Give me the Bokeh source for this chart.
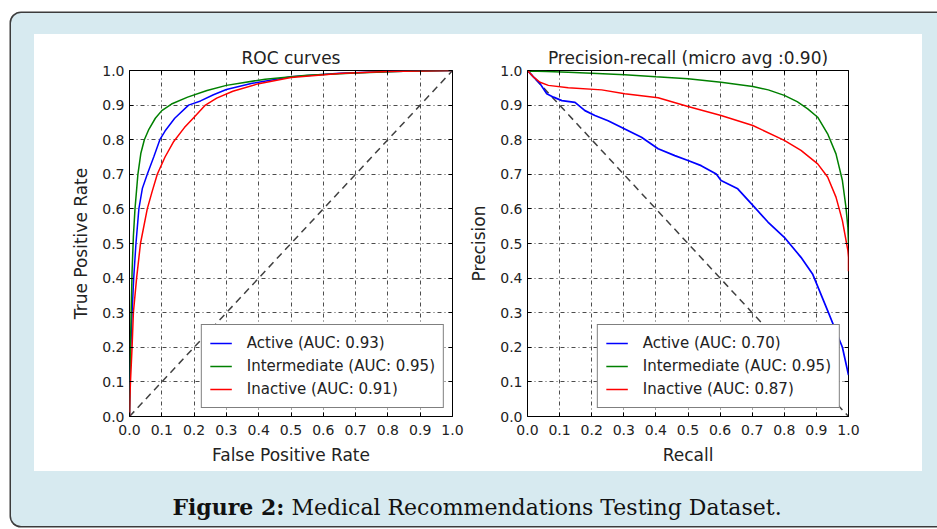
from bokeh.plotting import figure
from bokeh.models import Range1d, FixedTicker, NumeralTickFormatter, LinearAxis, Div
from bokeh.layouts import row, column
from bokeh.embed import file_html
from bokeh.resources import INLINE

# ---------------- data ----------------
ticks = [0.0, 0.1, 0.2, 0.3, 0.4, 0.5, 0.6, 0.7, 0.8, 0.9, 1.0]

roc_active_fpr = [0, 0.002, 0.004, 0.008, 0.013, 0.02, 0.029, 0.04, 0.055, 0.075, 0.094, 0.11, 0.14, 0.183, 0.22, 0.26, 0.3, 0.38, 0.5, 0.65, 0.8, 1.0]
roc_active_tpr = [0, 0.12, 0.2, 0.3, 0.4, 0.5, 0.6, 0.66, 0.7, 0.75, 0.8, 0.825, 0.862, 0.9, 0.912, 0.93, 0.945, 0.963, 0.982, 0.992, 0.997, 1.0]

roc_inter_fpr = [0, 0.002, 0.005, 0.008, 0.012, 0.017, 0.026, 0.035, 0.046, 0.06, 0.08, 0.1, 0.13, 0.18, 0.24, 0.3, 0.42, 0.55, 0.7, 0.85, 1.0]
roc_inter_tpr = [0, 0.15, 0.3, 0.42, 0.52, 0.6, 0.7, 0.76, 0.8, 0.83, 0.862, 0.884, 0.903, 0.923, 0.942, 0.957, 0.975, 0.986, 0.993, 0.998, 1.0]

roc_inact_fpr = [0, 0.001, 0.003, 0.008, 0.012, 0.022, 0.034, 0.055, 0.07, 0.086, 0.11, 0.137, 0.17, 0.2, 0.235, 0.27, 0.32, 0.4, 0.5, 0.65, 0.8, 1.0]
roc_inact_tpr = [0, 0.05, 0.1, 0.2, 0.3, 0.4, 0.5, 0.6, 0.65, 0.7, 0.75, 0.795, 0.835, 0.865, 0.9, 0.92, 0.94, 0.962, 0.98, 0.991, 0.997, 1.0]

pr_active_rec = [0, 0.01, 0.02, 0.039, 0.06, 0.081, 0.107, 0.148, 0.179, 0.21, 0.251, 0.303, 0.355, 0.407, 0.459, 0.5, 0.541, 0.588, 0.603, 0.655, 0.707, 0.749, 0.8, 0.852, 0.888, 0.935, 0.956, 0.981, 1.0]
pr_active_prec = [1.0, 0.99, 0.98, 0.962, 0.933, 0.923, 0.913, 0.908, 0.884, 0.87, 0.855, 0.831, 0.807, 0.774, 0.754, 0.74, 0.725, 0.701, 0.682, 0.658, 0.605, 0.562, 0.518, 0.46, 0.412, 0.306, 0.258, 0.2, 0.12]

pr_inter_rec = [0, 0.01, 0.03, 0.06, 0.127, 0.2, 0.303, 0.4, 0.5, 0.603, 0.702, 0.75, 0.8, 0.84, 0.873, 0.904, 0.935, 0.961, 0.981, 0.992, 0.998, 1.0]
pr_inter_prec = [1.0, 0.998, 0.998, 0.997, 0.995, 0.992, 0.988, 0.982, 0.976, 0.966, 0.954, 0.944, 0.928, 0.91, 0.889, 0.865, 0.817, 0.759, 0.682, 0.605, 0.547, 0.5]

pr_inact_rec = [0, 0.01, 0.02, 0.039, 0.065, 0.127, 0.231, 0.303, 0.407, 0.5, 0.603, 0.702, 0.8, 0.852, 0.904, 0.935, 0.961, 0.981, 0.998, 1.0, 1.0]
pr_inact_prec = [1.0, 0.99, 0.98, 0.966, 0.957, 0.95, 0.944, 0.933, 0.921, 0.896, 0.87, 0.841, 0.798, 0.769, 0.73, 0.692, 0.634, 0.566, 0.48, 0.46, 0.42]

roc_labels = ["Active (AUC: 0.93)", "Intermediate (AUC: 0.95)", "Inactive (AUC: 0.91)"]
pr_labels = ["Active (AUC: 0.70)", "Intermediate (AUC: 0.95)", "Inactive (AUC: 0.87)"]
colors = ["#0000ff", "#008000", "#ff0000"]

roc_diag_x = [0.0, 1.0]
roc_diag_y = [0.0, 1.0]
pr_diag_x = [0.0, 1.0]
pr_diag_y = [1.0, 0.0]

FONT = "DejaVu Sans"
TXT = "#222222"
BG = "#d7eaf0"


def make_fig(title, xlabel, ylabel, width, left, right):
    p = figure(width=width, height=437, output_backend="svg", toolbar_location=None,
               x_range=Range1d(0, 1), y_range=Range1d(0, 1),
               min_border_left=left, min_border_right=right,
               min_border_top=36, min_border_bottom=55,
               background_fill_color="white", border_fill_color="white",
               outline_line_color="black", outline_line_width=1, title=title)
    p.title.align = "center"
    p.title.text_font = FONT
    p.title.text_font_size = "17px"
    p.title.text_font_style = "normal"
    p.title.text_color = TXT
    p.title.standoff = 6
    for ax in (p.xaxis[0], p.yaxis[0]):
        ax.ticker = FixedTicker(ticks=ticks)
        ax.formatter = NumeralTickFormatter(format="0.0")
        ax.major_tick_in = 4
        ax.major_tick_out = 0
        ax.minor_tick_line_color = None
        ax.axis_line_color = None
        ax.major_tick_line_color = "black"
        ax.major_label_text_font = FONT
        ax.major_label_text_font_size = "14px"
        ax.major_label_text_color = TXT
        ax.axis_label_text_font = FONT
        ax.axis_label_text_font_size = "17px"
        ax.axis_label_text_font_style = "normal"
        ax.axis_label_text_color = TXT
    p.xaxis.axis_label = xlabel
    p.yaxis.axis_label = ylabel
    p.xaxis.major_label_standoff = 8
    p.xaxis.axis_label_standoff = 7
    p.yaxis.major_label_standoff = 5
    p.yaxis.axis_label_standoff = 8
    # top / right frame ticks (tick marks only, no labels)
    for loc in ("above", "right"):
        a = LinearAxis(ticker=FixedTicker(ticks=[], minor_ticks=ticks),
                       major_tick_line_color=None, axis_line_color=None,
                       minor_tick_in=4, minor_tick_out=0, minor_tick_line_color="black",
                       major_label_standoff=0)
        p.add_layout(a, loc)
    for g in (p.xgrid[0], p.ygrid[0]):
        g.ticker = FixedTicker(ticks=ticks)
        g.grid_line_color = "black"
        g.grid_line_alpha = 0.7
        g.grid_line_width = 1
        g.grid_line_dash = "4 3 1 3"
    return p


def style_legend(p):
    lg = p.legend[0]
    lg.location = "bottom_right"
    lg.margin = 8
    lg.padding = 8
    lg.spacing = 3
    lg.label_height = 20
    lg.glyph_height = 20
    lg.glyph_width = 22
    lg.label_standoff = 15
    lg.label_text_font = FONT
    lg.label_text_font_size = "15px"
    lg.label_text_color = TXT
    lg.border_line_color = "black"
    lg.border_line_width = 1.5
    lg.background_fill_color = "white"
    lg.background_fill_alpha = 1.0


# ROC
p1 = make_fig("ROC curves", "False Positive Rate", "True Positive Rate", 432, 95, 14)
p1.line(roc_diag_x, roc_diag_y, line_color="#404040", line_width=1.5, line_dash="7 5")
p1.line(roc_active_fpr, roc_active_tpr, line_color=colors[0], line_width=1.5, legend_label=roc_labels[0])
p1.line(roc_inter_fpr, roc_inter_tpr, line_color=colors[1], line_width=1.5, legend_label=roc_labels[1])
p1.line(roc_inact_fpr, roc_inact_tpr, line_color=colors[2], line_width=1.5, legend_label=roc_labels[2])
style_legend(p1)

# PR
p2 = make_fig("Precision-recall (micro avg :0.90)", "Recall", "Precision", 456, 60, 74)
p2.line(pr_diag_x, pr_diag_y, line_color="#404040", line_width=1.5, line_dash="7 5")
p2.line(pr_active_rec, pr_active_prec, line_color=colors[0], line_width=1.7, legend_label=pr_labels[0])
p2.line(pr_inter_rec, pr_inter_prec, line_color=colors[1], line_width=1.5, legend_label=pr_labels[1])
p2.line(pr_inact_rec, pr_inact_prec, line_color=colors[2], line_width=1.5, legend_label=pr_labels[2])
style_legend(p2)

panel = row(p1, p2, margin=(21, 0, 0, 23), styles={"background-color": "white"})

caption = Div(
    text=('<div style="width:926px;font-family:\'DejaVu Serif\';font-size:22px;text-align:center;'
          'color:#111111;padding-top:21px;white-space:nowrap;">'
          '<span style="padding-left:6px"></span>'
          '<b>Figure 2:</b> Medical Recommendations Testing Dataset.</div>'),
    width=926, height=55, margin=(0, 0, 0, 0))

root = column(panel, caption, width=926, height=513,
              styles={"position": "relative", "left": "11px", "top": "13px",
                      "background-color": BG,
                      "border-radius": "10px 0px 0px 10px",
                      "box-shadow": "0 0 0 1.5px #3c3c3c"})

open("out.html", "w").write(file_html(root, INLINE))
